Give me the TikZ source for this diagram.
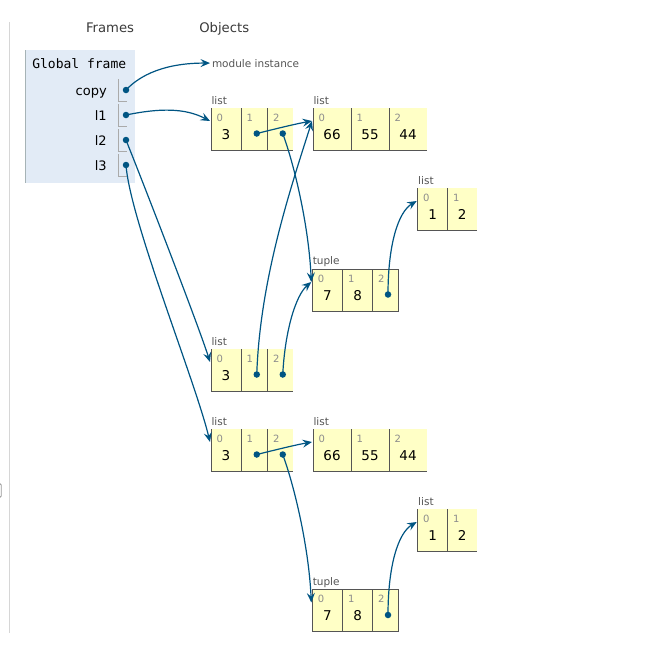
\documentclass[tikz,border=0pt]{standalone}
\usepackage{fontspec}
\setmainfont{DejaVu Sans}
\newfontfamily\framemono{DejaVu Sans Mono}
\usetikzlibrary{arrows.meta}

\definecolor{arrowblue}{HTML}{005583}
\definecolor{cellyellow}{HTML}{FFFFC6}
\definecolor{framebg}{HTML}{E2EBF6}
\definecolor{frameedge}{HTML}{A6B3B6}
\definecolor{cellborder}{HTML}{555555}
\definecolor{idxgray}{HTML}{8C8C8C}
\definecolor{typegray}{HTML}{555555}
\definecolor{headgray}{HTML}{3A3A3A}
\definecolor{bracketgray}{HTML}{AAAAAA}
\definecolor{panelline}{HTML}{D6D6D6}

\tikzset{
  txt/.style={inner sep=0pt, outer sep=0pt},
  header/.style={txt, anchor=base west, text=headgray, font=\fontsize{13.2}{15}\selectfont},
  varname/.style={txt, anchor=base east, text=black, font=\fontsize{13}{15}\selectfont},
  typelbl/.style={txt, anchor=base west, text=typegray, font=\fontsize{10.5}{12}\selectfont},
  idxlbl/.style={txt, anchor=base west, text=idxgray, font=\fontsize{10}{12}\selectfont},
  vallbl/.style={txt, anchor=base, text=black, font=\fontsize{13.5}{15}\selectfont},
  cellbox/.style={fill=cellyellow, draw=none, inner sep=0pt, outer sep=0pt,
                  minimum height=42pt, anchor=north west},
  cellline/.style={draw=cellborder, line width=1pt},
  ptr/.style={circle, fill=arrowblue, draw=none, inner sep=0pt, minimum size=6.5pt},
  ref/.style={draw=arrowblue, line width=1.2pt,
              -{Stealth[length=9.5pt,width=8pt,inset=3.5pt]}},
  bracket/.style={draw=bracketgray, line width=1pt},
}

% list cell: name, left, top, width, index, value (left and bottom borders)
\newcommand\listcell[6]{%
  \node[cellbox, minimum width=#4pt] (#1) at (#2,#3) {};
  \draw[cellline] (#1.north west) |- (#1.south east);
  \node[idxlbl] (#1i) at ([xshift=5.5pt,yshift=-13pt]#1.north west) {#5};
  \node[vallbl] (#1v) at ([yshift=11pt]#1.south) {#6};
}
% tuple cell: same, fully boxed
\newcommand\tuplecell[6]{%
  \node[cellbox, minimum width=#4pt] (#1) at (#2,#3) {};
  \draw[cellline] (#1.north west) rectangle (#1.south east);
  \node[idxlbl] (#1i) at ([xshift=5.5pt,yshift=-13pt]#1.north west) {#5};
  \node[vallbl] (#1v) at ([yshift=11pt]#1.south) {#6};
}
% pointer dot inside a cell
\newcommand\celldot[1]{%
  \node[ptr] (#1d) at ([xshift=2.5pt,yshift=-25.5pt]#1.north) {};
}

\begin{document}
\begin{tikzpicture}[x=1pt,y=-1pt]
  \fill[white] (0,0) rectangle (651,645);
  \useasboundingbox (0,0) rectangle (651,645);

  % panel divider and scroll handle
  \draw[panelline, line width=1pt] (9,22) -- (9,633);
  \draw[black!40, line width=0.8pt, rounded corners=1.5pt]
    (-3,483.5) -- (1.2,483.5) -- (1.2,497.5) -- (-3,497.5);

  % column headers
  \node[header] (hframes) at (86,32) {Frames};
  \node[header] (hobjects) at (199.3,32) {Objects};

  % global frame
  \node[fill=framebg, inner sep=0pt, outer sep=0pt, anchor=north west,
        minimum width=110pt, minimum height=133pt] (gframe) at (25,50) {};
  \draw[frameedge, line width=1pt] (gframe.north west) -- (gframe.south west);
  \node[txt, anchor=base west, text=black, font=\framemono\fontsize{13}{15}\selectfont]
    (gtitle) at (32.3,68) {Global frame};

  \node[varname] (vcopy) at (106.7,95) {copy};
  \node[varname] (vl1) at (106.7,120) {l1};
  \node[varname] (vl2) at (106.7,145) {l2};
  \node[varname] (vl3) at (106.7,170) {l3};

  \draw[bracket] (118,79) |- (127,101);
  \draw[bracket] (118,104) |- (127,126);
  \draw[bracket] (118,129) |- (127,151);
  \draw[bracket] (118,154) |- (127,176);

  \node[ptr] (copyd) at (126,90) {};
  \node[ptr] (l1d) at (126,115) {};
  \node[ptr] (l2d) at (126,140) {};
  \node[ptr] (l3d) at (126,165) {};

  % module object
  \node[txt, anchor=base west, text=typegray, font=\fontsize{10.5}{12}\selectfont]
    (modinst) at (212,67) {module instance};

  % list A  [3, ->B, ->T]
  \listcell{A0}{211}{108}{30}{0}{3}
  \listcell{A1}{241}{108}{26.5}{1}{}
  \listcell{A2}{267.5}{108}{25.5}{2}{}
  \celldot{A1} \celldot{A2}
  \node[typelbl] (Alab) at ([xshift=0.5pt,yshift=4pt]A0.north west) {list};

  % list B  [66, 55, 44]
  \listcell{B0}{313}{108}{38}{0}{66}
  \listcell{B1}{351}{108}{38}{1}{55}
  \listcell{B2}{389}{108}{38}{2}{44}
  \node[typelbl] (Blab) at ([xshift=0.5pt,yshift=4pt]B0.north west) {list};

  % tuple T  (7, 8, ->D)
  \tuplecell{T0}{312.3}{269}{30.4}{0}{7}
  \tuplecell{T1}{342.7}{269}{30}{1}{8}
  \tuplecell{T2}{372.7}{269}{25.6}{2}{}
  \celldot{T2}
  \node[typelbl] (Tlab) at ([xshift=0.5pt,yshift=4.5pt]T0.north west) {tuple};

  % list D  [1, 2]
  \listcell{D0}{417.7}{188}{29.8}{0}{1}
  \listcell{D1}{447.5}{188}{29.2}{1}{2}
  \node[typelbl] (Dlab) at ([xshift=0.5pt,yshift=4pt]D0.north west) {list};

  % list C  [3, ->B, ->T]
  \listcell{C0}{211}{349}{30}{0}{3}
  \listcell{C1}{241}{349}{26.5}{1}{}
  \listcell{C2}{267.5}{349}{25.5}{2}{}
  \celldot{C1} \celldot{C2}
  \node[typelbl] (Clab) at ([xshift=0.5pt,yshift=4pt]C0.north west) {list};

  % list E  [3, ->F, ->U]
  \listcell{E0}{211}{429}{30}{0}{3}
  \listcell{E1}{241}{429}{26.5}{1}{}
  \listcell{E2}{267.5}{429}{25.5}{2}{}
  \celldot{E1} \celldot{E2}
  \node[typelbl] (Elab) at ([xshift=0.5pt,yshift=4pt]E0.north west) {list};

  % list F  [66, 55, 44]
  \listcell{F0}{313}{429}{38}{0}{66}
  \listcell{F1}{351}{429}{38}{1}{55}
  \listcell{F2}{389}{429}{38}{2}{44}
  \node[typelbl] (Flab) at ([xshift=0.5pt,yshift=4pt]F0.north west) {list};

  % tuple U  (7, 8, ->G)
  \tuplecell{U0}{312.3}{589.5}{30.4}{0}{7}
  \tuplecell{U1}{342.7}{589.5}{30}{1}{8}
  \tuplecell{U2}{372.7}{589.5}{25.6}{2}{}
  \celldot{U2}
  \node[typelbl] (Ulab) at ([xshift=0.5pt,yshift=4.5pt]U0.north west) {tuple};

  % list G  [1, 2]
  \listcell{G0}{417.7}{509}{29.8}{0}{1}
  \listcell{G1}{447.5}{509}{29.2}{1}{2}
  \node[typelbl] (Glab) at ([xshift=0.5pt,yshift=4pt]G0.north west) {list};

  % arrow targets on the left edge of each object
  \coordinate (modin) at ([xshift=-2pt]modinst.west);
  \foreach \o in {A,B,C,D,E,F,G,T,U}
    \coordinate (\o in) at ([xshift=-1pt,yshift=-13pt]\o0.north west);

  % references
  \draw[ref] (copyd.center) .. controls (140,75) and (165,63) .. (modin);
  \draw[ref] (l1d.center) .. controls (160,108) and (185,108) .. (Ain);
  \draw[ref] (l2d.center) .. controls (150,200) and (200,330) .. (Cin);
  \draw[ref] (l3d.center) .. controls (130,220) and (195,380) .. (Ein);

  \draw[ref] (A1d.center) .. controls (275,129) and (295,124) .. (Bin);
  \draw[ref] (A2d.center) .. controls (296,170) and (309,230) .. (Tin);
  \draw[ref] (C1d.center) .. controls (260,280) and (290,190) .. (Bin);
  \draw[ref] (C2d.center) .. controls (285,330) and (296,295) .. (Tin);
  \draw[ref] (T2d.center) .. controls (388,245) and (398,212) .. (Din);

  \draw[ref] (E1d.center) .. controls (275,450) and (295,445) .. (Fin);
  \draw[ref] (E2d.center) .. controls (296,491) and (309,551) .. (Uin);
  \draw[ref] (U2d.center) .. controls (388,566) and (398,533) .. (Gin);
\end{tikzpicture}
\end{document}
